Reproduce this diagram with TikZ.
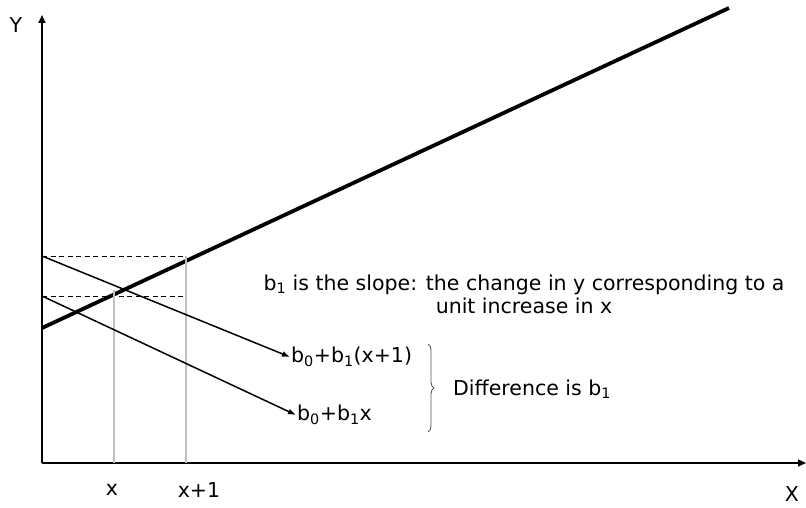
\documentclass[tikz,border=0pt]{standalone}
\usepackage{fontspec}
\setmainfont{DejaVu Sans}
\usetikzlibrary{arrows.meta, positioning, decorations.pathreplacing}
\definecolor{guide}{HTML}{C0C0C0}
\tikzset{
    axis/.style={-{Triangle[length=8pt, width=7pt]}, line width=1.6pt},
    fitline/.style={line width=3.8pt},
    level/.style={dash pattern=on 5pt off 3.5pt, line width=1pt},
    tick/.style={color=guide, line width=1.4pt},
    pointer/.style={-{Latex[length=8pt, width=6pt]}, line width=1.5pt},
    lbl/.style={font=\fontsize{20.5}{23}\selectfont, inner sep=1pt},
    brc/.style={decorate, decoration={brace, amplitude=6pt},
        line width=0.9pt, color=black!65},
}

\begin{document}
\begin{tikzpicture}[x=1pt, y=-1pt]
\useasboundingbox (0,0) rectangle (806,508);

% ================================================================
%  AXES
% ================================================================

\coordinate (origin) at (42,463);
\coordinate (ytop)   at (42,15);
\coordinate (xend)   at (806,463);

\draw[axis] (origin) -- (ytop);
\draw[axis] (origin) -- (xend);

\node[lbl] (ylab) at (16,25) {Y};
\node[lbl] (xlab) at (792,494) {X};

% ================================================================
%  REGRESSION LINE
% ================================================================

\coordinate (linestart) at (42,328);
\coordinate (lineend)   at (729,8);
\draw[fitline] (linestart) -- (lineend);

% ================================================================
%  GUIDES AT x AND x+1
% ================================================================

\coordinate (hi)    at (42,256);
\coordinate (hiend) at (186,256);
\coordinate (lo)    at (42,296);
\coordinate (loend) at (186,296);
\draw[level] (hi) -- (hiend);
\draw[level] (lo) -- (loend);

\coordinate (xfoot)  at (114,463);
\coordinate (xtop)   at (114,290);
\coordinate (x1foot) at (186,463);
\draw[tick] (xfoot) -- (xtop);
\draw[tick] (x1foot) -- (hiend);

\node[lbl] (xtxt)  at (112,490) {x};
\node[lbl] (x1txt) at (199,490) {x+1};

% ================================================================
%  LABELS
% ================================================================

\node[lbl, anchor=west] (upper) at (290,357) {b\textsubscript{0}+b\textsubscript{1}(x+1)};
\node[lbl, anchor=west] (lower) at (296,415) {b\textsubscript{0}+b\textsubscript{1}x};

\draw[pointer] (hi) -- (upper.west);
\draw[pointer] (lo) -- (lower.west);

\coordinate (bracetop) at (428,344);
\coordinate (bracebot) at (428,432);
\draw[brc] (bracetop) -- (bracebot);

\node[lbl, anchor=west] (diff) at (452,389) {Difference is b\textsubscript{1}};

\node[lbl, align=center] (slope) at (524,294)
    {b\textsubscript{1} is the slope: the change in y corresponding to a\\unit increase in x};

\end{tikzpicture}
\end{document}
